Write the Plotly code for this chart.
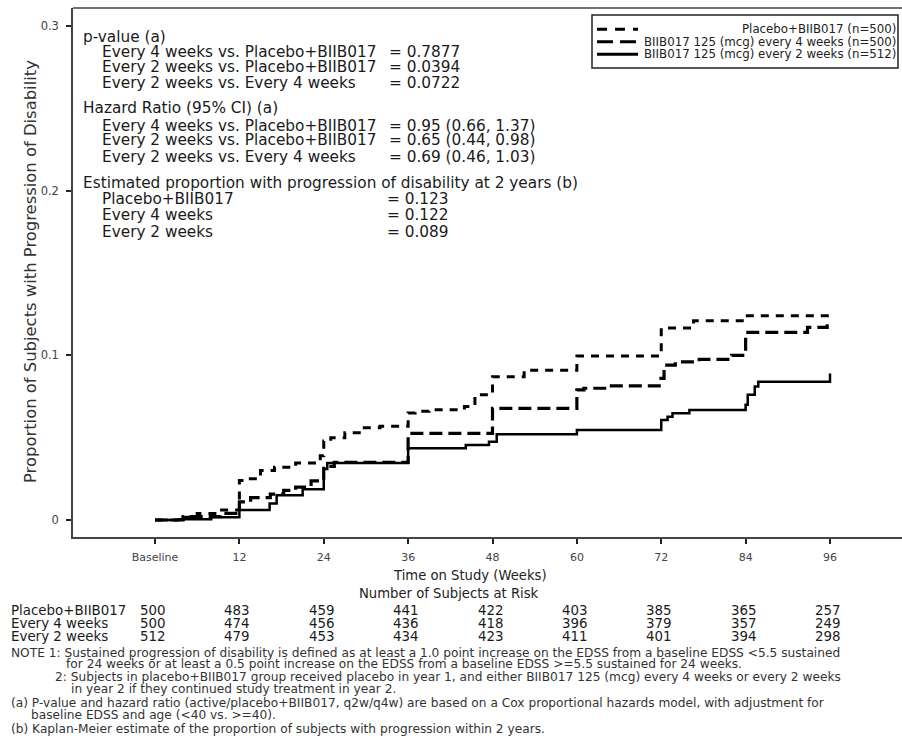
import plotly.graph_objects as go

# ---------------- data ----------------
weeks_placebo = [0, 4, 6, 9, 12, 13, 15, 17, 20, 23.5, 24, 25, 27, 29.5, 32, 36, 37, 39, 44, 45.5, 48, 52.5, 60, 72, 76.6, 84, 96]
prop_placebo = [0, 0.0016, 0.004, 0.006, 0.024, 0.025, 0.030, 0.032, 0.0346, 0.039, 0.048, 0.050, 0.053, 0.056, 0.057, 0.065, 0.066, 0.067, 0.069, 0.076, 0.087, 0.091, 0.0996, 0.1166, 0.121, 0.124, 0.124]

weeks_q4w = [0, 4, 9.3, 12, 13.6, 16.4, 18.3, 20, 22.2, 24, 25.5, 36, 48, 60, 61, 64.5, 71.7, 72.4, 74, 77.4, 82, 84, 92.8, 95.6, 96]
prop_q4w = [0, 0.002, 0.004, 0.011, 0.0136, 0.0157, 0.018, 0.020, 0.0237, 0.0326, 0.035, 0.0526, 0.0678, 0.079, 0.080, 0.0815, 0.086, 0.094, 0.096, 0.0975, 0.100, 0.114, 0.117, 0.120, 0.120]

weeks_q2w = [0, 3.5, 8, 12, 16.3, 17.3, 21, 24, 24.5, 36, 44.2, 47.5, 48.6, 60, 72, 72.9, 73.6, 76, 84, 84.3, 85.3, 85.8, 96]
prop_q2w = [0, 0.0004, 0.0016, 0.006, 0.010, 0.015, 0.0186, 0.031, 0.0346, 0.0435, 0.0455, 0.0475, 0.052, 0.0546, 0.0607, 0.0627, 0.0648, 0.0668, 0.070, 0.076, 0.081, 0.084, 0.089]

legend_names = ["Placebo+BIIB017 (n=500)",
                "BIIB017 125 (mcg) every 4 weeks (n=500)",
                "BIIB017 125 (mcg) every 2 weeks (n=512)"]

tick_weeks = [0, 12, 24, 36, 48, 60, 72, 84, 96]
tick_labels = ["Baseline", "12", "24", "36", "48", "60", "72", "84", "96"]
y_ticks = [0, 0.1, 0.2, 0.3]
y_tick_labels = ["0", "0.1", "0.2", "0.3"]

risk_groups = ["Placebo+BIIB017", "Every 4 weeks", "Every 2 weeks"]
risk_placebo = [500, 483, 459, 441, 422, 403, 385, 365, 257]
risk_q4w = [500, 474, 456, 436, 418, 396, 379, 357, 249]
risk_q2w = [512, 479, 453, 434, 423, 411, 401, 394, 298]

stat_headers = ["p-value (a)", "Hazard Ratio (95% CI) (a)",
                "Estimated proportion with progression of disability at 2 years (b)"]
stat_labels = [
    ["Every 4 weeks vs. Placebo+BIIB017", "Every 2 weeks vs. Placebo+BIIB017", "Every 2 weeks vs. Every 4 weeks"],
    ["Every 4 weeks vs. Placebo+BIIB017", "Every 2 weeks vs. Placebo+BIIB017", "Every 2 weeks vs. Every 4 weeks"],
    ["Placebo+BIIB017", "Every 4 weeks", "Every 2 weeks"],
]
stat_values = [
    ["= 0.7877", "= 0.0394", "= 0.0722"],
    ["= 0.95 (0.66, 1.37)", "= 0.65 (0.44, 0.98)", "= 0.69 (0.46, 1.03)"],
    ["= 0.123", "= 0.122", "= 0.089"],
]

notes = [
    "NOTE 1: Sustained progression of disability is defined as at least a 1.0 point increase on the EDSS from a baseline EDSS &lt;5.5 sustained",
    "for 24 weeks or at least a 0.5 point increase on the EDSS from a baseline EDSS &gt;=5.5 sustained for 24 weeks.",
    "2: Subjects in placebo+BIIB017 group received placebo in year 1, and either BIIB017 125 (mcg) every 4 weeks or every 2 weeks",
    "in year 2 if they continued study treatment in year 2.",
    "(a) P-value and hazard ratio (active/placebo+BIIB017, q2w/q4w) are based on a Cox proportional hazards model, with adjustment for",
    "baseline EDSS and age (&lt;40 vs. &gt;=40).",
    "(b) Kaplan-Meier estimate of the proportion of subjects with progression within 2 years.",
]

# ---------------- layout helpers ----------------
W, H = 902, 738
L, R, T, B = 73, 0, 8, 201
PW, PH = W - L - R, H - T - B
FONT = "DejaVu Sans"


def px(x):
    return (x - L) / PW


def py(y):
    return (H - B - y) / PH


fig = go.Figure()

styles = [
    dict(color="black", width=3, dash="8px,7px"),
    dict(color="black", width=3.2, dash="13px,6px"),
    dict(color="black", width=2.5, dash="solid"),
]
for xs, ys, name, st in zip([weeks_placebo, weeks_q4w, weeks_q2w],
                            [prop_placebo, prop_q4w, prop_q2w], legend_names, styles):
    fig.add_trace(go.Scatter(x=xs, y=ys, mode="lines", line_shape="hv",
                             line=st, name=name, showlegend=False))

annotations = []
shapes = []

# y axis title
annotations.append(dict(text="Proportion of Subjects with Progression of Disability",
                        xref="paper", yref="paper", x=px(30), y=py(272), textangle=-90,
                        showarrow=False, font=dict(family=FONT, size=16.4, color="#333"),
                        xanchor="center", yanchor="middle"))

# x axis title and risk header
annotations.append(dict(text="Time on Study (Weeks)", xref="paper", yref="paper",
                        x=px(470), y=py(575), showarrow=False, xanchor="center", yanchor="middle",
                        font=dict(family=FONT, size=13.2, color="#222")))
annotations.append(dict(text="Number of Subjects at Risk", xref="paper", yref="paper",
                        x=px(449), y=py(593), showarrow=False, xanchor="center", yanchor="middle",
                        font=dict(family=FONT, size=13.2, color="#222")))

# stats block
header_pos = [36.7, 108.3, 183.3]
line_pos = [[52.3, 66.7, 83.3], [126, 140.3, 157.3], [199.3, 215.5, 231.7]]
val_x = [389, 389, 387]
sfont = dict(family=FONT, size=15.3, color="#1a1a1a")
for hdr, hy, labs, vals, lys, vx in zip(stat_headers, header_pos, stat_labels, stat_values, line_pos, val_x):
    annotations.append(dict(text=hdr, xref="paper", yref="paper", x=px(83), y=py(hy),
                            showarrow=False, xanchor="left", yanchor="middle", font=sfont,
                            borderpad=0, borderwidth=0))
    for lab, val, ly in zip(labs, vals, lys):
        annotations.append(dict(text=lab, xref="paper", yref="paper", x=px(101.5), y=py(ly),
                                showarrow=False, xanchor="left", yanchor="middle", font=sfont,
                                borderpad=0, borderwidth=0))
        annotations.append(dict(text=val, xref="paper", yref="paper", x=px(vx), y=py(ly),
                                showarrow=False, xanchor="left", yanchor="middle", font=sfont,
                                borderpad=0, borderwidth=0))

# legend box (manual)
shapes.append(dict(type="rect", xref="paper", yref="paper", x0=px(592), x1=px(898),
                   y0=py(68), y1=py(15), line=dict(color="#222", width=1.5), fillcolor="white"))
leg_y = [29.3, 41.7, 54.3]
for name, st, ly in zip(legend_names, styles, leg_y):
    dash = {"8px,7px": "10px,8px", "13px,6px": "16px,7px"}.get(st["dash"], "solid")
    shapes.append(dict(type="line", xref="paper", yref="paper", x0=px(597), x1=px(638),
                       y0=py(ly), y1=py(ly), line=dict(color="black", width=3, dash=dash)))
    annotations.append(dict(text=name, xref="paper", yref="paper", x=px(896), y=py(ly),
                            showarrow=False, xanchor="right", yanchor="middle",
                            font=dict(family=FONT, size=11.8, color="#222"),
                            borderpad=0, borderwidth=0))

# top border
shapes.append(dict(type="line", xref="paper", yref="paper", x0=0, x1=1, y0=1, y1=1,
                   line=dict(color="#444", width=1.5)))

# at-risk table
row_y = [610.5, 623.5, 636]
rfont = dict(family=FONT, size=13.4, color="#1a1a1a")
for grp, vals, ry in zip(risk_groups, [risk_placebo, risk_q4w, risk_q2w], row_y):
    annotations.append(dict(text=grp, xref="paper", yref="paper", x=px(11), y=py(ry),
                            showarrow=False, xanchor="left", yanchor="middle", font=rfont,
                            borderpad=0, borderwidth=0))
    for wk, v in zip(tick_weeks, vals):
        annotations.append(dict(text=str(v), xref="x", yref="paper", x=wk, xshift=-2, y=py(ry),
                                showarrow=False, xanchor="center", yanchor="middle", font=rfont,
                                borderpad=0, borderwidth=0))

# notes
note_x = [11, 66, 55, 71, 11, 31, 11]
note_y = [652.5, 664, 676.5, 689, 702.5, 715, 729]
nfont = dict(family=FONT, size=12.2, color="#333")
for t, nx, ny in zip(notes, note_x, note_y):
    annotations.append(dict(text=t, xref="paper", yref="paper", x=px(nx), y=py(ny),
                            showarrow=False, xanchor="left", yanchor="middle", font=nfont,
                            borderpad=0, borderwidth=0))

x_lo = (L - 155) / (675 / 96)
x_hi = (W - 155) / (675 / 96)
fig.update_layout(
    width=W, height=H,
    margin=dict(l=L, r=R, t=T, b=B),
    paper_bgcolor="white", plot_bgcolor="white",
    showlegend=False,
    annotations=annotations, shapes=shapes,
    xaxis=dict(range=[x_lo, x_hi], tickvals=tick_weeks, ticktext=tick_labels,
               showgrid=False, zeroline=False, showline=True, linecolor="#444", linewidth=1.5,
               ticks="outside", ticklen=5, tickwidth=1.5, tickcolor="#222",
               tickfont=dict(family=FONT, size=11, color="#444"), ticklabelstandoff=4),
    yaxis=dict(range=[-17 / 1646.7, 0.3 + 18 / 1646.7], tickvals=y_ticks, ticktext=y_tick_labels,
               showgrid=False, zeroline=False, showline=True, linecolor="#444", linewidth=1.5,
               ticks="outside", ticklen=5, tickwidth=1.5, tickcolor="#222",
               tickfont=dict(family=FONT, size=11.5, color="#444"), ticklabelstandoff=5),
)

fig.write_html("out.html")
